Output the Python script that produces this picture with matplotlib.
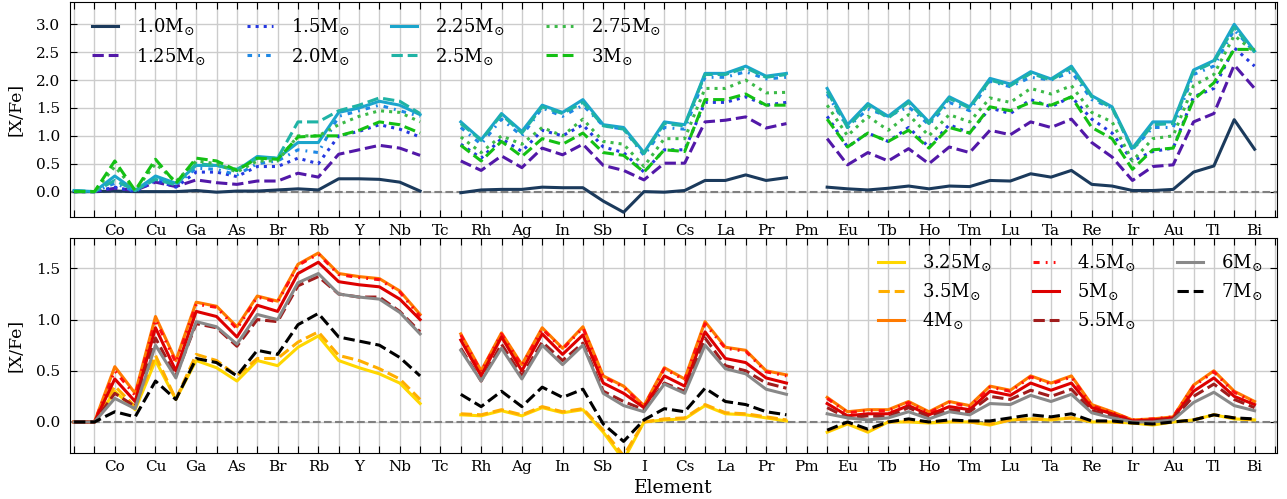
import matplotlib
matplotlib.use('Agg')
import matplotlib.pyplot as plt
import numpy as np

nan = np.nan

# elements from Mn (25) to Bi (83); Tc and Pm have no data
Z = np.arange(25, 84)
symbols = ['Mn', 'Fe', 'Co', 'Ni', 'Cu', 'Zn', 'Ga', 'Ge', 'As', 'Se', 'Br', 'Kr',
           'Rb', 'Sr', 'Y', 'Zr', 'Nb', 'Mo', 'Tc', 'Ru', 'Rh', 'Pd', 'Ag', 'Cd',
           'In', 'Sn', 'Sb', 'Te', 'I', 'Xe', 'Cs', 'Ba', 'La', 'Ce', 'Pr', 'Nd',
           'Pm', 'Sm', 'Eu', 'Gd', 'Tb', 'Dy', 'Ho', 'Er', 'Tm', 'Yb', 'Lu', 'Hf',
           'Ta', 'W', 'Re', 'Os', 'Ir', 'Pt', 'Au', 'Hg', 'Tl', 'Pb', 'Bi']

# low mass models (top panel)
m1_0 = [0.0, 0.0, 0.01, 0.0, 0.0, 0.0, 0.02, -0.01, 0.01, 0.01, 0.03, 0.05, 0.03, 0.23, 0.23, 0.22, 0.17, 0.01, nan,
        -0.02, 0.03, 0.04, 0.04, 0.08, 0.07, 0.07, -0.17, -0.37, 0.0, -0.01, 0.02, 0.2, 0.2, 0.3, 0.2, 0.25, nan,
        0.08, 0.05, 0.03, 0.06, 0.1, 0.05, 0.1, 0.09, 0.2, 0.19, 0.32, 0.26, 0.38, 0.13, 0.1, 0.02, 0.02, 0.04, 0.35, 0.46, 1.29, 0.76]
m1_25 = [0.0, 0.0, 0.06, 0.02, 0.17, 0.09, 0.21, 0.16, 0.13, 0.19, 0.19, 0.33, 0.26, 0.67, 0.75, 0.83, 0.78, 0.65, nan,
         0.55, 0.38, 0.64, 0.43, 0.78, 0.66, 0.85, 0.47, 0.38, 0.21, 0.51, 0.51, 1.25, 1.28, 1.34, 1.14, 1.22, nan,
         0.95, 0.48, 0.7, 0.55, 0.77, 0.5, 0.8, 0.7, 1.1, 1.02, 1.25, 1.15, 1.3, 0.88, 0.62, 0.2, 0.45, 0.48, 1.25, 1.4, 2.27, 1.85]
m1_5 = [0.0, 0.0, 0.08, 0.0, 0.2, 0.08, 0.35, 0.35, 0.27, 0.45, 0.45, 0.6, 0.5, 1.0, 1.08, 1.2, 1.12, 0.98, nan,
        0.85, 0.6, 0.95, 0.72, 1.1, 1.0, 1.2, 0.8, 0.7, 0.35, 0.75, 0.75, 1.6, 1.6, 1.7, 1.55, 1.6, nan,
        1.35, 0.8, 1.05, 0.9, 1.15, 0.8, 1.2, 1.05, 1.5, 1.4, 1.65, 1.52, 1.7, 1.3, 1.05, 0.55, 0.72, 0.78, 1.7, 1.85, 2.58, 2.25]
m2_0 = [0.0, 0.0, 0.15, 0.0, 0.25, 0.12, 0.42, 0.4, 0.3, 0.5, 0.55, 0.75, 0.7, 1.35, 1.45, 1.55, 1.45, 1.35, nan,
        1.15, 0.85, 1.3, 1.0, 1.5, 1.35, 1.55, 1.18, 1.12, 0.65, 1.15, 1.12, 2.05, 2.05, 2.15, 2.02, 2.05, nan,
        1.75, 1.15, 1.48, 1.35, 1.52, 1.2, 1.6, 1.45, 1.98, 1.88, 2.05, 2.0, 2.15, 1.65, 1.5, 0.75, 1.15, 1.15, 2.1, 2.25, 2.9, 2.5]
m2_25 = [0.02, 0.0, 0.28, 0.02, 0.28, 0.15, 0.47, 0.47, 0.38, 0.63, 0.6, 0.88, 0.88, 1.42, 1.5, 1.62, 1.55, 1.38, nan,
         1.25, 0.93, 1.4, 1.08, 1.55, 1.42, 1.65, 1.2, 1.15, 0.7, 1.25, 1.2, 2.12, 2.12, 2.25, 2.07, 2.12, nan,
         1.85, 1.2, 1.58, 1.35, 1.63, 1.25, 1.7, 1.52, 2.03, 1.93, 2.15, 2.02, 2.25, 1.72, 1.52, 0.78, 1.25, 1.25, 2.18, 2.35, 3.0, 2.52]
m2_5 = [0.02, 0.0, 0.2, 0.02, 0.22, 0.12, 0.5, 0.47, 0.4, 0.6, 0.6, 1.25, 1.25, 1.45, 1.55, 1.68, 1.62, 1.4, nan,
        1.22, 0.92, 1.38, 1.05, 1.52, 1.4, 1.6, 1.18, 1.12, 0.68, 1.22, 1.18, 2.1, 2.1, 2.22, 2.05, 2.1, nan,
        1.8, 1.15, 1.55, 1.32, 1.6, 1.22, 1.67, 1.5, 2.0, 1.9, 2.12, 2.0, 2.22, 1.7, 1.5, 0.75, 1.2, 1.22, 2.15, 2.32, 2.95, 2.5]
m2_75 = [0.0, 0.0, 0.45, 0.02, 0.5, 0.18, 0.55, 0.5, 0.35, 0.55, 0.55, 1.0, 1.0, 1.2, 1.35, 1.45, 1.42, 1.25, nan,
         0.98, 0.7, 1.0, 0.85, 1.15, 1.0, 1.3, 0.9, 0.85, 0.45, 0.95, 0.95, 1.85, 1.85, 2.0, 1.77, 1.78, nan,
         1.55, 1.0, 1.35, 1.1, 1.38, 1.0, 1.38, 1.25, 1.68, 1.6, 1.85, 1.75, 1.9, 1.42, 1.25, 0.55, 0.95, 1.0, 1.9, 2.1, 2.8, 2.5]
m3_0 = [0.0, 0.0, 0.55, 0.02, 0.58, 0.15, 0.6, 0.55, 0.38, 0.6, 0.58, 0.98, 1.0, 1.0, 1.1, 1.25, 1.2, 1.05, nan,
        0.83, 0.55, 0.9, 0.63, 0.95, 0.85, 1.05, 0.7, 0.65, 0.35, 0.75, 0.72, 1.65, 1.65, 1.75, 1.55, 1.55, nan,
        1.3, 0.8, 1.05, 0.9, 1.1, 0.78, 1.15, 1.05, 1.52, 1.45, 1.6, 1.55, 1.7, 1.15, 0.95, 0.4, 0.75, 0.78, 1.65, 1.95, 2.55, 2.55]

# intermediate / massive models (bottom panel)
m3_25 = [0.0, 0.0, 0.3, 0.12, 0.6, 0.22, 0.6, 0.53, 0.4, 0.6, 0.55, 0.73, 0.84, 0.6, 0.53, 0.47, 0.38, 0.18, nan,
         0.07, 0.06, 0.11, 0.06, 0.14, 0.09, 0.12, -0.1, -0.37, 0.0, 0.02, 0.03, 0.16, 0.08, 0.07, 0.04, 0.01, nan,
         -0.1, -0.02, -0.1, 0.0, 0.0, -0.01, 0.0, 0.0, -0.03, 0.02, 0.03, 0.02, 0.04, 0.0, 0.0, -0.01, -0.03, 0.0, 0.02, 0.07, 0.03, 0.02]
m3_5 = [0.0, 0.0, 0.35, 0.15, 0.65, 0.22, 0.66, 0.6, 0.45, 0.62, 0.62, 0.78, 0.88, 0.65, 0.6, 0.52, 0.42, 0.22, nan,
        0.08, 0.07, 0.12, 0.07, 0.15, 0.1, 0.13, -0.08, -0.33, 0.0, 0.03, 0.04, 0.17, 0.09, 0.08, 0.05, 0.02, nan,
        -0.09, -0.01, -0.09, 0.0, 0.01, 0.0, 0.01, 0.0, -0.02, 0.02, 0.03, 0.03, 0.04, 0.01, 0.0, -0.01, -0.02, 0.0, 0.02, 0.07, 0.04, 0.02]
m4_0 = [0.0, 0.0, 0.54, 0.28, 1.03, 0.6, 1.17, 1.13, 0.93, 1.23, 1.18, 1.54, 1.65, 1.45, 1.42, 1.4, 1.28, 1.05, nan,
        0.86, 0.5, 0.87, 0.56, 0.92, 0.72, 0.93, 0.45, 0.35, 0.16, 0.53, 0.42, 0.98, 0.73, 0.7, 0.5, 0.46, nan,
        0.24, 0.1, 0.12, 0.12, 0.2, 0.1, 0.2, 0.16, 0.35, 0.31, 0.45, 0.38, 0.45, 0.17, 0.1, 0.02, 0.03, 0.05, 0.36, 0.5, 0.3, 0.2]
m4_5 = [0.0, 0.0, 0.5, 0.26, 1.0, 0.58, 1.15, 1.12, 0.91, 1.22, 1.17, 1.53, 1.64, 1.44, 1.41, 1.39, 1.27, 1.03, nan,
        0.85, 0.49, 0.86, 0.55, 0.91, 0.71, 0.92, 0.44, 0.34, 0.15, 0.52, 0.41, 0.96, 0.72, 0.69, 0.49, 0.45, nan,
        0.23, 0.09, 0.11, 0.11, 0.19, 0.09, 0.19, 0.15, 0.34, 0.3, 0.44, 0.37, 0.44, 0.16, 0.09, 0.02, 0.03, 0.05, 0.35, 0.49, 0.29, 0.19]
m5_0 = [0.0, 0.0, 0.42, 0.2, 0.92, 0.5, 1.08, 1.03, 0.83, 1.14, 1.08, 1.45, 1.56, 1.37, 1.34, 1.32, 1.2, 1.0, nan,
        0.8, 0.45, 0.83, 0.5, 0.86, 0.66, 0.85, 0.38, 0.28, 0.14, 0.45, 0.35, 0.88, 0.62, 0.58, 0.43, 0.38, nan,
        0.18, 0.06, 0.08, 0.08, 0.16, 0.07, 0.15, 0.12, 0.3, 0.26, 0.38, 0.31, 0.38, 0.14, 0.08, 0.01, 0.02, 0.04, 0.3, 0.43, 0.25, 0.17]
m5_5 = [0.0, 0.0, 0.28, 0.15, 0.82, 0.45, 0.96, 0.92, 0.74, 1.0, 0.98, 1.33, 1.42, 1.25, 1.22, 1.22, 1.08, 0.88, nan,
        0.72, 0.4, 0.76, 0.45, 0.78, 0.6, 0.77, 0.3, 0.2, 0.12, 0.38, 0.3, 0.82, 0.55, 0.5, 0.38, 0.33, nan,
        0.14, 0.04, 0.06, 0.05, 0.14, 0.05, 0.12, 0.1, 0.25, 0.22, 0.31, 0.25, 0.32, 0.11, 0.06, 0.0, 0.01, 0.03, 0.25, 0.37, 0.22, 0.14]
m6_0 = [0.0, 0.0, 0.23, 0.13, 0.75, 0.43, 0.98, 0.93, 0.76, 1.05, 1.0, 1.36, 1.45, 1.25, 1.22, 1.2, 1.07, 0.86, nan,
        0.7, 0.4, 0.72, 0.42, 0.75, 0.56, 0.75, 0.28, 0.16, 0.1, 0.37, 0.28, 0.75, 0.52, 0.47, 0.32, 0.27, nan,
        0.08, 0.04, 0.02, 0.04, 0.1, 0.03, 0.1, 0.07, 0.18, 0.17, 0.26, 0.2, 0.27, 0.09, 0.04, 0.0, 0.0, 0.02, 0.19, 0.29, 0.16, 0.11]
m7_0 = [0.0, 0.0, 0.1, 0.05, 0.4, 0.22, 0.62, 0.58, 0.45, 0.7, 0.66, 0.95, 1.06, 0.83, 0.79, 0.75, 0.63, 0.45, nan,
        0.27, 0.15, 0.3, 0.15, 0.34, 0.24, 0.32, -0.02, -0.19, 0.02, 0.13, 0.1, 0.33, 0.2, 0.17, 0.1, 0.07, nan,
        -0.08, 0.0, -0.07, 0.0, 0.03, 0.0, 0.02, 0.01, 0.01, 0.04, 0.07, 0.05, 0.08, 0.01, 0.01, -0.01, -0.02, 0.0, 0.02, 0.07, 0.04, 0.03]

top_models = [('1.0', m1_0, '#1b3a5c', '-'),
              ('1.25', m1_25, '#5218a8', '--'),
              ('1.5', m1_5, '#2538e0', ':'),
              ('2.0', m2_0, '#1e88e5', (0, (1.5, 2, 0.6, 2))),
              ('2.25', m2_25, '#1ba5cc', '-'),
              ('2.5', m2_5, '#1fb3a5', '--'),
              ('2.75', m2_75, '#3cba48', ':'),
              ('3', m3_0, '#14c014', '--')]

bottom_models = [('3.25', m3_25, '#ffd700', '-'),
                 ('3.5', m3_5, '#ffae00', '--'),
                 ('4', m4_0, '#ff7a00', '-'),
                 ('4.5', m4_5, '#ff1010', (0, (2, 2, 0.6, 2, 0.6, 2))),
                 ('5', m5_0, '#dd0000', '-'),
                 ('5.5', m5_5, '#a01c1c', '--'),
                 ('6', m6_0, '#888888', '-'),
                 ('7', m7_0, '#000000', '--')]

plt.rcParams['font.family'] = 'DejaVu Serif'
plt.rcParams['mathtext.fontset'] = 'dejavuserif'

fig = plt.figure(figsize=(12.87, 4.99), dpi=100)
ax1 = fig.add_axes([0.0544, 0.5657, 0.9378, 0.4303])
ax2 = fig.add_axes([0.0544, 0.0928, 0.9378, 0.4309])

for ax, models, ylim, yticks in [(ax1, top_models, (-0.45, 3.4), np.arange(0, 3.01, 0.5)),
                                 (ax2, bottom_models, (-0.3, 1.8), np.arange(0, 1.51, 0.5))]:
    for name, vals, col, ls in models:
        ax.plot(Z, vals, color=col, linestyle=ls, lw=2.2,
                label=name + r'M$_{\odot}$')
    ax.axhline(0, color='gray', ls='--', lw=1.5, zorder=1)
    ax.set_xlim(24.8, 84.1)
    ax.set_ylim(*ylim)
    ticks = np.arange(25, 85)
    ax.set_xticks(ticks)
    ax.set_xticklabels([symbols[z - 25] if (z % 2 == 1 and 27 <= z <= 83) else ''
                        for z in ticks])
    ax.set_yticks(yticks)
    ax.set_yticklabels(['%.1f' % t for t in yticks])
    ax.grid(True, color='#cccccc', lw=1, zorder=0)
    ax.set_axisbelow(True)
    ax.tick_params(direction='in', top=True, right=True, length=5, labelsize=11)
    ax.tick_params(axis='y', pad=7)
    ax.tick_params(axis='x', pad=5)
    ax.set_ylabel('[X/Fe]', fontsize=12.5, labelpad=8)

ax1.legend(loc='upper left', bbox_to_anchor=(0.006, 1.0), ncol=4, frameon=False,
           fontsize=13, handlelength=1.45, handletextpad=1.0, columnspacing=2.3,
           labelspacing=0.45, borderaxespad=0.4)
ax2.legend(loc='upper right', ncol=3, frameon=False, fontsize=13,
           handlelength=1.45, handletextpad=1.0, columnspacing=2.3,
           labelspacing=0.45, borderaxespad=0.4)
ax2.set_xlabel('Element', fontsize=13.5)

fig.savefig('out.png', dpi=100)
